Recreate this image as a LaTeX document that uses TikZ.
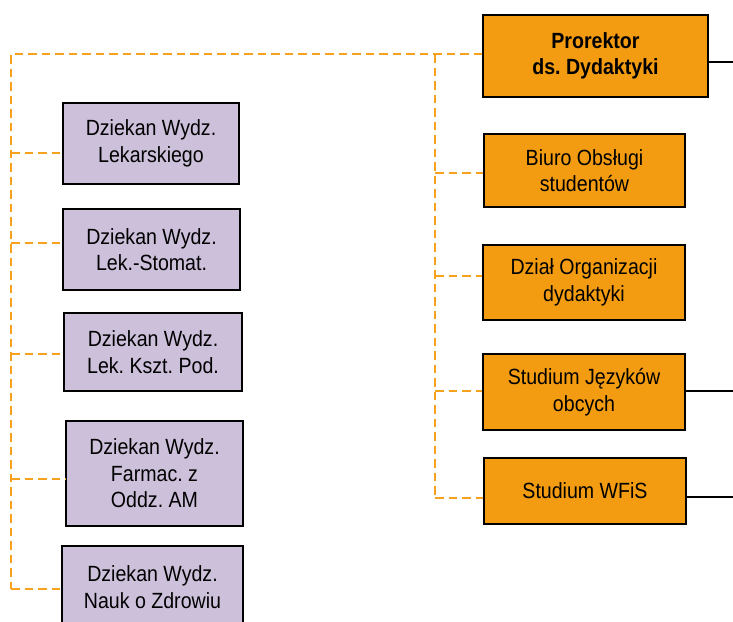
\documentclass[tikz,border=0pt]{standalone}
\usepackage{fontspec}
\setmainfont{Liberation Sans}[FakeStretch=0.89]
\frenchspacing
\definecolor{orgfill}{RGB}{243,156,18}
\definecolor{lavfill}{RGB}{204,192,218}
\definecolor{dashcol}{RGB}{247,162,30}
\tikzset{
  obox/.style={draw=black, line width=1.6pt, fill=orgfill, align=center, inner sep=0pt, text=black},
  lbox/.style={draw=black, line width=1.6pt, fill=lavfill, align=center, inner sep=0pt, text=black},
  dline/.style={draw=dashcol, line width=2pt, dash pattern=on 8.5pt off 5pt},
  sline/.style={draw=black, line width=1.5pt}
}
\begin{document}
\begin{tikzpicture}[x=1pt,y=-1pt,font=\fontsize{22}{26.5}\selectfont]
\useasboundingbox (0,0) rectangle (733,621);
\begin{scope}
\clip (0,0) rectangle (733,621);
% right column
\node[obox, minimum width=225pt, minimum height=82pt] (pro) at (595.5,56) {\textbf{Prorektor}\\\textbf{ds. Dydaktyki}};
\node[obox, minimum width=201pt, minimum height=73pt] (bos) at (584.5,170.5) {Biuro Obsługi\\studentów};
\node[obox, minimum width=202pt, minimum height=75pt] (doz) at (584,282.5) {Dział Organizacji\\dydaktyki};
\node[obox, minimum width=202pt, minimum height=76pt] (sjo) at (584,392) {Studium Języków\\obcych};
\node[obox, minimum width=202pt, minimum height=66pt] (wfs) at (585,491) {Studium WFiS};
% left column
\node[lbox, minimum width=176pt, minimum height=81pt] (lek) at (151,143.5) {Dziekan Wydz.\\Lekarskiego};
\node[lbox, minimum width=177pt, minimum height=81pt] (sto) at (151.5,249.5) {Dziekan Wydz.\\Lek.-Stomat.};
\node[lbox, minimum width=178pt, minimum height=78pt] (ksz) at (153,352) {Dziekan Wydz.\\Lek. Kszt. Pod.};
\node[lbox, minimum width=177pt, minimum height=105pt] (far) at (154.5,473.5) {Dziekan Wydz.\\Farmac. z\\Oddz. AM};
\node[lbox, minimum width=181pt, minimum height=82pt] (nzd) at (152.5,587) {Dziekan Wydz.\\Nauk o Zdrowiu};
% junction coordinates
\coordinate (tl) at (11,54);
\coordinate (tr) at (435,54);
\coordinate (l1) at (11,153);
\coordinate (l2) at (11,243);
\coordinate (l3) at (11,354);
\coordinate (l4) at (11,479);
\coordinate (l5) at (11,589);
\coordinate (r1) at (435,173);
\coordinate (r2) at (435,276);
\coordinate (r3) at (435,391);
\coordinate (r4) at (435,498);
\coordinate (e1) at (733,62);
\coordinate (e2) at (733,391);
\coordinate (e3) at (733,497);
% dashed connectors
\draw[dline] (tl -| pro.west) -- (tl) -- (l5);
\draw[dline] (tr) -- (r4);
\draw[dline] (l1) -- (l1 -| lek.west);
\draw[dline] (l2) -- (l2 -| sto.west);
\draw[dline] (l3) -- (l3 -| ksz.west);
\draw[dline] (l4) -- (l4 -| far.west);
\draw[dline] (l5) -- (l5 -| nzd.west);
\draw[dline] (r1) -- (r1 -| bos.west);
\draw[dline] (r2) -- (r2 -| doz.west);
\draw[dline] (r3) -- (r3 -| sjo.west);
\draw[dline] (r4) -- (r4 -| wfs.west);
% solid lines
\draw[sline] (e1 -| pro.east) -- (e1);
\draw[sline] (e2 -| sjo.east) -- (e2);
\draw[sline] (e3 -| wfs.east) -- (e3);
\end{scope}
\end{tikzpicture}
\end{document}
